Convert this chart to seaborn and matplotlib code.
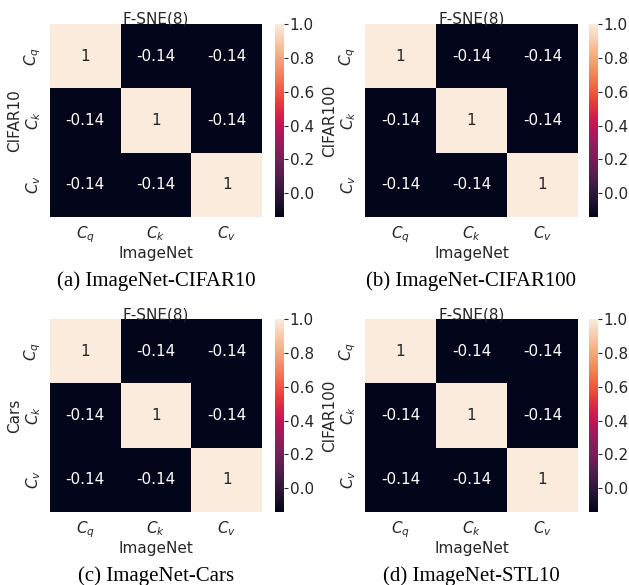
import numpy as np
import pandas as pd
import matplotlib
matplotlib.use("Agg")
import matplotlib.pyplot as plt
import seaborn as sns

# ---------------------------
# DATA
# ---------------------------
labels = ["$C_q$", "$C_k$", "$C_v$"]
diag_value = 1.0
off_value = -0.14
panel_titles = ["F-SNE(8)", "F-SNE(8)", "F-SNE(8)", "F-SNE(8)"]
row_names = ["CIFAR10", "CIFAR100", "Cars", "CIFAR100"]
col_name = "ImageNet"
captions = ["(a) ImageNet-CIFAR10", "(b) ImageNet-CIFAR100",
            "(c) ImageNet-Cars", "(d) ImageNet-STL10"]

matrix = [[diag_value, off_value, off_value],
          [off_value, diag_value, off_value],
          [off_value, off_value, diag_value]]

# ---------------------------
# PLOT
# ---------------------------
sns.set_theme(style="white")
plt.rcParams["font.family"] = ["DejaVu Sans"]
text_color = "#262626"
fs = 11

W, H = 629, 585
fig = plt.figure(figsize=(W / 100, H / 100), dpi=100)

def box(x0, y0, x1, y1):
    return [x0 / W, 1 - y1 / H, (x1 - x0) / W, (y1 - y0) / H]

# pixel boxes: heatmap, colorbar, caption center
layout = [
    ((50, 24, 262, 217), (275, 24, 284, 217), (156, 281)),
    ((365, 24, 578, 217), (589, 24, 598, 217), (471, 281)),
    ((50, 319, 262, 512), (275, 319, 284, 512), (156, 576)),
    ((365, 319, 578, 512), (589, 319, 598, 512), (471, 576)),
]

for i, (hb, cb, cap) in enumerate(layout):
    ax = fig.add_axes(box(*hb))
    cax = fig.add_axes(box(*cb))
    df = pd.DataFrame(matrix, index=labels, columns=labels)
    sns.heatmap(df, ax=ax, cbar_ax=cax, annot=True, vmin=off_value, vmax=diag_value,
                annot_kws={"fontsize": fs})
    ax.set_title(panel_titles[i], fontsize=fs, pad=0, color=text_color)
    ax.set_xlabel(col_name, fontsize=fs, color=text_color, labelpad=1)
    ax.set_ylabel(row_names[i], fontsize=fs, color=text_color, labelpad=0)
    ax.tick_params(axis="both", length=0, labelsize=fs, colors=text_color, pad=5)
    plt.setp(ax.get_xticklabels(), rotation=0)
    plt.setp(ax.get_yticklabels(), rotation=90, va="center")
    cax.tick_params(length=3, width=0.8, labelsize=fs, colors=text_color, pad=1)
    cax.set_yticks([0.0, 0.2, 0.4, 0.6, 0.8, 1.0])
    fig.text(cap[0] / W, 1 - cap[1] / H, captions[i], ha="center", va="center",
             fontsize=15, family="Liberation Serif", color="black")

fig.savefig("out.png", dpi=100)
